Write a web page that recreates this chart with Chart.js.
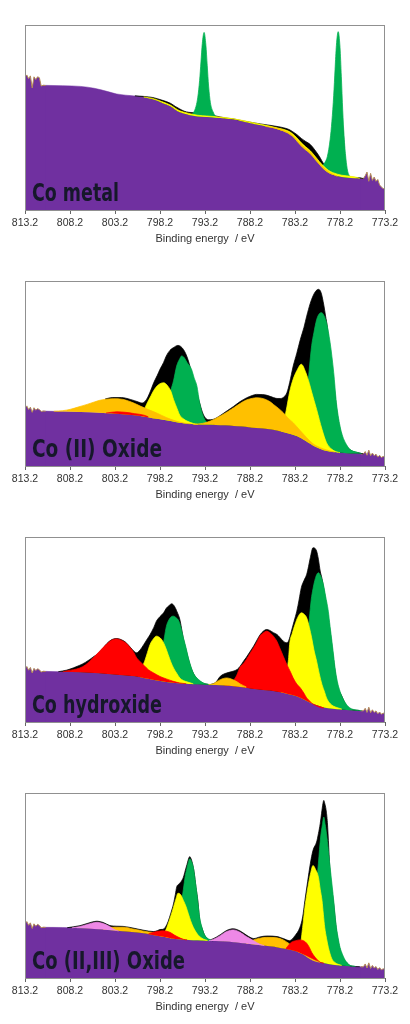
<!DOCTYPE html>
<html lang="en">
<head>
    <meta charset="UTF-8">
    <title>Co 2p XPS</title>
    <script src="https://cdn.jsdelivr.net/npm/chart.js"></script>
    <style>
        body { margin: 0; background: #fff; }
        canvas { display: block; }
    </style>
</head>
<body>
    <canvas id="c0" width="410" height="256"></canvas>
    <canvas id="c1" width="410" height="256"></canvas>
    <canvas id="c2" width="410" height="256"></canvas>
    <canvas id="c3" width="410" height="256"></canvas>

    <script>
        // binding energy ticks (reversed axis)
        const tickValues = [813.2, 808.2, 803.2, 798.2, 793.2, 788.2, 783.2, 778.2, 773.2];

        // ---- Co metal : [energy, intensity] ----
        const metalNoiseL = [[813.2,72],[813.0,73],[812.8,71],[812.6,72.5],[812.4,66],[812.2,72],[812.0,70.5],[811.8,72],[811.6,71.5],[811.4,67],[811.2,67.4],[810.9,67.3]];
        const metalNoiseR = [[775.9,17.1],[775.6,17],[775.4,18.5],[775.2,20.5],[775.0,15.5],[774.8,19.8],[774.6,16],[774.4,17.8],[774.2,15.5],[774.0,16.5],[773.8,13.5],[773.6,12.5],[773.4,11.5],[773.2,12]];
        const metalBg = [[811.2,67.4],[809,67.2],[807,66.8],[805.5,65.8],[804,64],[803,62.7],[801,61.6],[800,60.9],[799,59.8],[798,58],[797,55.9],[796.5,54.2],[796,52.8],[795,51.4],[794,50.6],[793,50.3],[792,49.9],[791,49.5],[790,49],[789,47.9],[788,46.8],[787,45.8],[786,44.7],[785,43.4],[784,41.5],[783.5,39.8],[783,37.2],[782.5,34.5],[782,32.3],[781.5,30.3],[781,27.5],[780.5,24.6],[780,22],[779.5,20.1],[779,19],[778,17.8],[777,17.3],[776,17.1],[775.6,17]];
        const metalEnv = [[801,61.7],[800,61.4],[799,60.8],[798,59.4],[797,57.6],[796.5,56],[796,54.6],[795.5,53.4],[795,52.8],[794.5,52.6],[794,52.5],[793,52],[792,50.8],[791,49.8],[790,49.2],[789,48.2],[788,47.3],[787,46.5],[786,45.8],[785,45],[784,43.8],[783.5,42.5],[783,40.8],[782.5,38.7],[782,37],[781.5,35.4],[781,32.5],[780.5,29],[780,25],[779.7,24.4],[779.4,30],[779,40],[778.4,50],[777.9,45],[777.6,25],[777.3,18.5],[777,17.8],[776,17.4],[775.6,17]];
        const metalYellow = [[800,61.1],[799,60.3],[798,58.6],[797,56.6],[796.5,55],[796,53.6],[795,52.2],[794,51.2],[793,50.8],[791,50],[789,48.4],[787,46.3],[785,44.2],[784,42.8],[783.5,41.3],[783,39],[782.5,36.3],[782,34.1],[781.5,32],[781,29.2],[780.5,26.2],[780,23.6],[779.5,21.5],[779,20.2],[778,18.8],[777,18.2],[776.3,17.6],[776,17.1]];
        const metalOrange = [[786.5,45.2],[785,43.9],[784,42.1],[783.5,40.5],[783,38],[782.5,35.4],[782,33.2],[781.5,31.2],[781,28.4],[780.5,25.4],[780,22.8],[779.5,20.8],[779,19.4],[778.5,18.2]];
        const metalGreenA = [[794.8,51.5],[794.5,52.5],[794.2,56],[794,61],[793.8,70],[793.65,80],[793.5,90],[793.3,96],[793.1,89],[792.95,78],[792.8,67],[792.6,58],[792.3,53],[792,50.5],[791.8,49.9]];
        const metalGreenB = [[780.2,23.5],[779.9,25.5],[779.6,29],[779.3,38],[779.1,48],[778.9,62],[778.75,76],[778.6,89],[778.4,96.4],[778.2,88],[778.05,72],[777.9,54],[777.75,40],[777.55,28],[777.35,21],[777.1,18]];

        // ---- Co (II) oxide ----
        const ox2NoiseL = [[813.2,31.5],[813.0,32.5],[812.8,30.5],[812.6,31.8],[812.4,29],[812.2,31.5],[812.0,30.2],[811.8,31],[811.6,30.5],[811.4,29.5],[811.2,29.7],[810.9,29.6]];
        const ox2NoiseR = [[775.9,6.6],[775.6,6.5],[775.4,7.8],[775.2,5.8],[775.0,8.6],[774.8,5.5],[774.6,7],[774.4,5.6],[774.2,6.4],[774.0,4.8],[773.8,5.8],[773.6,4.6],[773.4,5.2],[773.2,4.8]];
        const ox2Bg = [[811.2,29.7],[809,29.4],[807,29.2],[805,28.8],[803,28.3],[801,27.4],[800,26.7],[799,25.8],[798,25.2],[797,24.3],[796,23.4],[795,22.9],[794,22.5],[793,22.3],[792,22.2],[791,22],[790,21.6],[789,21.3],[788,20.7],[787,20.4],[786,19.8],[785,18.9],[784,17.7],[783,16.2],[782,13.5],[781,10.5],[780,8.5],[779,7.7],[778,7.2],[777,6.8],[776,6.7],[775.6,6.5]];
        const ox2Env = [[804.3,36.2],[803.5,37],[802.5,37],[801.5,36],[800.6,34.6],[800.2,34],[799.7,36],[799.3,40],[798.9,45],[798.5,49],[798.2,52.3],[797.8,56],[797.5,59.5],[797.1,62.5],[796.7,64],[796.2,65.2],[795.6,63],[795.1,57.7],[794.5,46.8],[793.9,36],[793.4,28],[792.8,25],[792.3,25.2],[791.5,27.3],[790.7,30],[790,32.3],[789.3,34.8],[788.6,36.8],[787.9,38.2],[787.5,38.7],[786.8,38.6],[786.3,38.2],[785.6,37],[785.2,36.5],[784.8,36.5],[784.4,37.5],[784.1,39.6],[783.8,45],[783.4,54],[783,61],[782.6,68.5],[782.2,75],[781.9,81],[781.5,88],[781.2,91.9],[780.9,94.5],[780.6,95.5],[780.3,93.7],[780,87],[779.8,81],[779.6,75],[779.3,60],[778.9,45],[778.5,28],[778,16],[777.5,11],[777,8.5],[776,7],[775.6,6.5]];
        const ox2OrangeA = [[810,29.6],[809,29.9],[808.2,30.6],[807.2,32],[806.3,33.3],[805.5,34.6],[804.9,35.5],[804.2,36.1],[803.4,36.4],[802.3,36],[801.2,34.2],[800.4,32.4],[799.5,30.5],[798.5,28.5],[797.5,26.2],[796.5,24.4],[795.5,23.2],[794.8,22.8]];
        const ox2OrangeB = [[794.5,22.5],[793.5,23],[793,23.6],[792.2,25.2],[791.5,27],[790.7,29.3],[790,31.5],[789.3,33.8],[788.6,35.7],[787.9,36.6],[787.5,36.9],[786.7,36.4],[786,34.8],[785.6,33.3],[785,31],[784.5,28.8],[784,26],[783.4,23.4],[782.6,19],[781.9,15.3],[781.2,12],[780.4,9.9],[779.7,8.7],[779.3,8.1],[778.8,7.5]];
        const ox2Red = [[804.2,28.6],[803,29.3],[802,29],[801,28.3],[800,27.5],[799.5,26.6]];
        const ox2YellowA = [[800.4,27.5],[800,30],[799.7,33.3],[799.2,38],[798.9,40.8],[798.4,43.8],[797.8,45],[797.3,43],[797,40.5],[796.7,36],[796.3,31],[796,27.5],[795.6,25.5],[795.2,24.3],[794.5,23],[794,22.5]];
        const ox2YellowB = [[784.8,20],[784.4,25],[784.1,32],[783.8,40],[783.4,47],[783,51.5],[782.5,55],[782,50.5],[781.6,44.5],[781.35,40],[780.8,30.6],[780.2,19.8],[779.7,12.6],[779.1,9],[778.6,7.7],[778.2,7.2]];
        const ox2GreenA = [[798.5,25.5],[798,27],[797.5,33],[797,41],[796.7,46],[796.35,54],[796,58],[795.8,59.5],[795.5,58.5],[795.2,56],[794.7,52.3],[794.4,47.5],[794.1,43.2],[793.8,34.2],[793.4,27],[793.1,24.2],[792.8,23.2],[792.3,22.3]];
        const ox2GreenB = [[783.5,17],[783,19],[782.6,22],[782.2,25],[781.9,37],[781.6,53],[781.35,65],[781.1,72],[780.8,79],[780.5,82.3],[780.25,82.9],[780,81.5],[779.7,77.5],[779.3,66.7],[778.9,50.5],[778.6,34.2],[778.2,21.6],[777.9,16],[777.6,12.6],[777.1,9],[776.3,7.4],[775.8,6.7]];

        // ---- Co hydroxide ----
        const hyNoiseL = [[813.2,29],[813.0,30],[812.8,28],[812.6,29.5],[812.4,26.5],[812.2,29],[812.0,27.8],[811.8,28.8],[811.6,28.2],[811.4,27],[811.2,27.4],[810.9,27.3]];
        const hyNoiseR = [[775.9,6.05],[775.6,6],[775.4,7.4],[775.2,5.2],[775.0,8],[774.8,5],[774.6,6.6],[774.4,5.2],[774.2,6],[774.0,4.4],[773.8,5.4],[773.6,4.2],[773.4,4.8],[773.2,4.4]];
        const hyBg = [[811.2,27.4],[809,27.1],[807,26.9],[805,26.4],[803,25.6],[801,24.7],[800,23.8],[799,22.9],[798,22],[797,21.3],[796,20.9],[795,20.6],[794,20.4],[793,20.2],[792,20],[791,19.7],[790,19.3],[789,18.8],[788,18],[787,17.5],[786,17],[785,16.2],[784,15.2],[783,13.9],[782,11.6],[781,9.4],[780,7.9],[779,7.2],[778,6.7],[777,6.3],[776,6.1],[775.6,6]];
        const hyEnvA = [[809.5,27.2],[808.6,28],[807.8,29.3],[807.1,30.7],[806.5,32.2],[806,33.8],[805.5,35.6],[805.2,36.5],[804.6,39.5],[804.1,42.4],[803.6,44.4],[803,45.1],[802.3,44],[801.9,42.6],[801.5,40.4],[801.1,38.3],[800.8,37.4],[800.4,39],[800,41.9],[799.6,45],[799.3,47.3],[798.9,51],[798.6,54.5],[798.2,57],[797.8,59],[797.5,61.5],[797.2,62.9],[796.9,63.9],[796.6,62.6],[796.3,59.5],[796,55.5],[795.6,45],[795.2,37],[794.8,30],[794.4,25.5],[793.9,22.5],[793.4,21],[792.8,20.3]];
        const hyEnvB = [[792.6,20.2],[792,21.5],[791.5,24.7],[790.8,26.5],[790.1,27.4],[789.6,28.5],[789.3,30.1],[788.9,33],[788.6,35],[788.2,38],[787.8,41],[787.4,44.5],[787.1,47],[786.7,49.2],[786.35,50],[786,49.5],[785.6,48.3],[785.2,47.3],[784.9,45.8],[784.5,43.7],[784.1,42.8],[783.9,44],[783.6,49.1],[783.3,54.5],[783,59.9],[782.75,66],[782.5,72.6],[782.2,76.5],[781.9,79.8],[781.7,84],[781.5,88.8],[781.2,94.2],[780.8,92.4],[780.6,88],[780.4,81.6],[780.2,77.5],[779.8,66],[779.3,49],[778.9,33],[778.5,20],[778,14],[777.5,9],[777,7],[776,6.2]];
        const hyRedA = [[809,27.1],[808.6,27.6],[807.8,28.3],[807.1,29.2],[806.5,30.8],[806,32.9],[805.4,35.8],[804.9,38.3],[804.5,40.4],[804.1,42.2],[803.6,44.2],[803,44.9],[802.3,43.7],[801.9,42.3],[801.5,40.1],[801.1,37.5],[800.8,34.7],[800.4,32.6],[800,30.7],[799.5,28.3],[798.9,26.5],[798.2,24.6],[797.5,23.3],[796.8,22.1],[796,21.1],[795.3,20.7]];
        const hyRedB = [[791,19.8],[790.4,20.6],[790.1,22],[789.7,25],[789.3,29.6],[788.9,31.8],[788.6,33.8],[788.2,37],[787.8,40.1],[787.4,43.5],[787.1,46.4],[786.7,48.3],[786.35,49.1],[786,48.3],[785.6,46.4],[785.2,43.5],[784.9,40.1],[784.5,35.5],[784.1,31],[783.7,27],[783.4,23.8],[783,20.5],[782.6,18.4],[782.2,15.5],[781.9,13],[781.5,11],[781.2,9.7],[780.8,8.7],[780.4,7.9],[780,7.6]];
        const hyOrange = [[792.8,20.3],[792.3,20.6],[791.9,21.8],[791.5,22.9],[790.8,23.8],[790.1,22.9],[789.6,21.6],[789.3,20.6],[788.6,18.9]];
        const hyYellowA = [[800.6,26],[800.2,29.5],[799.9,32.9],[799.6,37.5],[799.3,41.9],[799,44.5],[798.6,46.4],[798.2,45.5],[797.9,43.7],[797.6,40.5],[797.3,36.5],[797,32.5],[796.7,29.2],[796.3,26],[796,23.8],[795.6,22.4],[795.2,21.7],[794.5,20.6]];
        const hyYellowB = [[784.8,16.5],[784.4,21],[784.1,28],[783.9,35],[783.8,41.9],[783.5,48],[783.2,52.7],[782.9,56.5],[782.5,59],[782.2,58.3],[781.9,56.3],[781.6,51],[781.35,45.5],[781.1,39],[780.8,32.9],[780.5,26],[780.2,20.2],[779.9,16],[779.7,13],[779.3,10],[778.9,8.5],[778.4,7.6],[778,7]];
        const hyGreenA = [[798.8,24],[798.4,27],[798.1,33],[797.9,40],[797.7,46],[797.5,51.5],[797.2,55.3],[796.9,57],[796.7,57.2],[796.4,56.3],[796.1,54.5],[795.85,50.5],[795.6,45.5],[795.3,40],[795.05,34.7],[794.8,30.5],[794.5,26.5],[794.2,24.3],[793.9,22.9],[793.4,21.1],[792.8,20.3],[792.3,20.1]];
        const hyGreenB = [[782.6,18],[782.2,28],[781.9,40],[781.6,56],[781.4,66],[781.2,72],[781,76.5],[780.8,79.5],[780.6,80.7],[780.4,79.5],[780.2,77],[780.05,74.4],[779.8,68],[779.5,59.9],[779.3,51.5],[779.1,43.7],[778.9,35.5],[778.75,29.2],[778.5,22],[778.2,16.6],[777.9,13],[777.6,10.3],[777.1,7.6],[776.4,6.5],[775.8,6.1]];

        // ---- Co (II,III) oxide ----
        const c3NoiseL = [[813.2,29.5],[813.0,30.5],[812.8,28.5],[812.6,29.8],[812.4,26.8],[812.2,29.3],[812.0,28],[811.8,29],[811.6,28.4],[811.4,27.2],[811.2,27.4],[810.9,27.35]];
        const c3NoiseR = [[775.9,6.05],[775.6,6],[775.4,7.6],[775.2,5.4],[775.0,8.2],[774.8,5.2],[774.6,6.8],[774.4,5.4],[774.2,6.2],[774.0,4.6],[773.8,5.6],[773.6,4.4],[773.4,5],[773.2,4.6]];
        const c3Bg = [[811.2,27.4],[809,27.3],[807,26.9],[805,26.4],[803,25.6],[801,24.7],[800,24.2],[799,23.3],[798,22.4],[797,21.5],[796,20.9],[795,20.6],[794,20.4],[793,20.2],[792,20],[791,19.7],[790,19.3],[789,18.8],[788,18.2],[787,17.7],[786,17.1],[785,16.4],[784,15.5],[783,14.3],[782,12.1],[781,9.7],[780,8.1],[779,7.2],[778,6.7],[777,6.3],[776,6.1],[775.6,6]];
        const c3EnvA = [[808.5,27.2],[807.1,28.3],[806.4,29.3],[805.8,30.2],[805.2,30.7],[804.5,30],[803.8,28.4],[803,28],[802.3,27.9],[801.2,27],[800,25.8],[798.9,25.1],[798.5,25.6],[798.2,26.2],[797.9,26.3],[797.6,27.5],[797.3,30.5],[797,35],[796.7,40.1],[796.5,45],[796.35,49.1],[796.1,50.8],[795.9,51.8],[795.6,54.5],[795.4,58],[795.2,61.4],[795,64.8],[794.9,65.6],[794.75,64.5],[794.6,62],[794.4,57],[794.2,49],[794,42],[793.8,32],[793.5,26.5],[793.2,22.8],[792.8,20.8],[792.3,20.1]];
        const c3EnvB = [[792.8,20.3],[792.3,21.2],[791.5,23.4],[790.8,25.7],[790.05,26.6],[789.3,25.4],[788.6,23.2],[788.2,22],[787.8,21.3],[787.1,22.2],[786.35,22.7],[785.2,22.4],[784.5,21.3],[783.8,20.2],[783.2,22.9],[782.65,27.4],[782.35,33],[782.1,41.9],[781.8,52],[781.5,61.7],[781.2,69],[780.8,73.5],[780.6,78],[780.4,83.4],[780.25,89],[780.1,94.2],[780,96],[779.9,94.5],[779.75,91],[779.6,84],[779.3,57],[778.9,40],[778.6,26],[778.2,15.5],[777.6,9],[777,6.5],[776,6.1]];
        const c3PinkA = [[808,27.1],[807.1,27.8],[806.4,28.8],[805.8,29.6],[805.2,30.1],[804.5,29.4],[803.8,27.8],[803.2,26],[802.8,25.4]];
        const c3PinkB = [[792.8,20.1],[792.3,20.8],[791.5,22.9],[790.8,25.1],[790.05,26],[789.3,24.7],[788.6,22.4],[787.8,20.2],[787.1,18.2],[786.6,17.5]];
        const c3OrangeA = [[804.5,26.3],[803.8,27.4],[803,27.4],[802.3,27.4],[801.2,26.5],[800,25.3],[798.9,24.4],[798.2,23.4],[797.5,22.3],[797,21.6]];
        const c3OrangeB = [[788.6,18.6],[787.8,20.6],[787.1,21.5],[786.35,22],[785.2,21.7],[784.5,20.6],[783.8,18.4],[783,15.7],[782.3,13],[781.5,10.3],[781,9.2],[780.4,8.5]];
        const c3RedA = [[799.5,23.8],[798.9,24.7],[798.2,25.4],[797.8,25.5],[797.1,24.7],[796.6,23.2],[796.3,22.4],[795.6,20.9],[795.2,20.6]];
        const c3RedB = [[784.2,16],[783.6,19.3],[783.1,20.2],[782.65,20.6],[782.2,20],[781.9,18.8],[781.6,16.5],[781.35,13.9],[780.8,10.3],[780.4,8.5],[780,8]];
        const c3YellowA = [[798.3,23],[797.9,24.5],[797.6,25.6],[797.3,29.2],[797,33.5],[796.7,38.3],[796.45,42.5],[796.2,45.8],[795.9,45],[795.6,41.9],[795.3,38.5],[795.05,34.7],[794.8,31],[794.5,27.4],[794.2,24.8],[793.9,22.9],[793.4,21.1],[792.9,20.3]];
        const c3YellowB = [[783,14.6],[782.6,18],[782.35,27.4],[782.1,38.3],[781.9,45],[781.7,50.9],[781.45,57],[781.2,60.8],[780.9,58.5],[780.6,54.5],[780.4,48],[780.2,41.9],[780.05,34.5],[779.9,27.4],[779.7,21.5],[779.5,16.6],[779.3,13],[779.1,10.3],[778.8,8.5],[778.4,7.4],[778,6.8]];
        const c3GreenA = [[796.6,25],[796.2,30],[795.9,38],[795.6,48],[795.4,55],[795.2,59.5],[795.05,62.5],[794.9,64.4],[794.7,63],[794.5,59.9],[794.3,53],[794.1,45.5],[793.95,39],[793.8,32.9],[793.55,27.5],[793.3,23.8],[793,21.8],[792.8,21.1],[792.3,20.1]];
        const c3GreenB = [[781.6,20],[781.2,30],[780.9,45],[780.6,62],[780.35,76.2],[780.15,83],[780,87],[779.85,83],[779.7,78],[779.5,69],[779.3,59.9],[779.1,51],[778.9,41.9],[778.75,34],[778.6,27.4],[778.4,21.5],[778.2,16.6],[777.9,12.5],[777.6,9.4],[777.3,7.8],[777.1,6.9],[776.5,6.3]];

        const PURPLE = '#7030A0', BLACK = '#000000', GREEN = '#00B050', YELLOW = '#FFFF00',
              ORANGE = '#FFC000', RED = '#FF0000', PINK = '#EE88E6', NOISE = '#B48A55';

        // order: higher = drawn further back
        const panels = [
            { label: 'Co metal', labelW: 87, noise: [metalNoiseL, metalNoiseR], bg: metalBg,
              layers: [[metalEnv, BLACK, 8], [metalGreenA, GREEN, 7], [metalGreenB, GREEN, 7],
                       [metalYellow, YELLOW, 6], [metalOrange, ORANGE, 5]] },
            { label: 'Co (II) Oxide', labelW: 130, noise: [ox2NoiseL, ox2NoiseR], bg: ox2Bg,
              layers: [[ox2Env, BLACK, 8], [ox2GreenA, GREEN, 7], [ox2GreenB, GREEN, 7],
                       [ox2YellowA, YELLOW, 6], [ox2YellowB, YELLOW, 6],
                       [ox2OrangeA, ORANGE, 5], [ox2OrangeB, ORANGE, 5], [ox2Red, RED, 4]] },
            { label: 'Co hydroxide', labelW: 130, noise: [hyNoiseL, hyNoiseR], bg: hyBg,
              layers: [[hyEnvA, BLACK, 8], [hyEnvB, BLACK, 8], [hyGreenA, GREEN, 7], [hyGreenB, GREEN, 7],
                       [hyYellowA, YELLOW, 6], [hyYellowB, YELLOW, 6],
                       [hyRedA, RED, 5], [hyRedB, RED, 5], [hyOrange, ORANGE, 4]] },
            { label: 'Co (II,III) Oxide', labelW: 153, noise: [c3NoiseL, c3NoiseR], bg: c3Bg,
              layers: [[c3EnvA, BLACK, 8], [c3EnvB, BLACK, 8], [c3GreenA, GREEN, 7], [c3GreenB, GREEN, 7],
                       [c3YellowA, YELLOW, 6], [c3YellowB, YELLOW, 6],
                       [c3OrangeA, ORANGE, 5], [c3OrangeB, ORANGE, 5],
                       [c3PinkA, PINK, 4], [c3PinkB, PINK, 4], [c3RedA, RED, 3], [c3RedB, RED, 3]] }
        ];

        const framePlugin = {
            id: 'frameAndLabel',
            afterDatasetsDraw(chart, args, opts) {
                const { ctx, chartArea: a } = chart;
                ctx.save();
                ctx.strokeStyle = '#909090';
                ctx.lineWidth = 1;
                ctx.strokeRect(a.left + 0.5, a.top + 0.5, a.width - 1, a.height);
                // sample label
                ctx.font = 'bold 25px "DejaVu Sans"';
                const w = ctx.measureText(opts.text).width;
                ctx.translate(a.left + 7, a.bottom - 9);
                ctx.scale(opts.width / w, 1);
                ctx.fillStyle = '#16182a';
                ctx.textBaseline = 'alphabetic';
                ctx.fillText(opts.text, 0, 0);
                ctx.restore();
            }
        };

        panels.forEach((p, i) => {
            const datasets = [{
                data: p.bg, backgroundColor: PURPLE, borderColor: PURPLE, borderWidth: 0.5,
                fill: 'origin', order: 10, pointRadius: 0, cubicInterpolationMode: 'monotone'
            }];
            p.noise.forEach(n => datasets.push({
                data: n, backgroundColor: PURPLE, borderColor: NOISE, borderWidth: 1,
                fill: 'origin', order: 9, pointRadius: 0, tension: 0
            }));
            p.layers.forEach(([data, color, order]) => datasets.push({
                data: data, backgroundColor: color, borderColor: color, borderWidth: 0.75,
                fill: 0, order: order, pointRadius: 0, cubicInterpolationMode: 'monotone'
            }));

            new Chart(document.getElementById('c' + i), {
                type: 'line',
                data: { datasets },
                options: {
                    responsive: false,
                    animation: false,
                    events: [],
                    layout: { padding: { left: 25, right: 25, top: 25, bottom: 0 } },
                    plugins: {
                        legend: { display: false },
                        tooltip: { enabled: false },
                        frameAndLabel: { text: p.label, width: p.labelW }
                    },
                    scales: {
                        x: {
                            type: 'linear', reverse: true, min: 773.2, max: 813.2,
                            afterBuildTicks: s => { s.ticks = tickValues.map(v => ({ value: v })); },
                            afterFit: s => { s.height = 46; },
                            ticks: {
                                autoSkip: false, maxRotation: 0, padding: 3, color: '#333',
                                font: { family: 'Liberation Sans', size: 10.5 },
                                callback: v => v.toFixed(1)
                            },
                            grid: { drawOnChartArea: false, drawTicks: true, tickLength: 4, color: '#666' },
                            border: { display: false },
                            title: {
                                display: true, text: 'Binding energy  / eV', color: '#333',
                                font: { family: 'Liberation Sans', size: 11 },
                                padding: { top: 0, bottom: 10 }
                            }
                        },
                        y: { display: false, min: 0, max: 100 }
                    }
                },
                plugins: [framePlugin]
            });
        });
    </script>
</body>
</html>
